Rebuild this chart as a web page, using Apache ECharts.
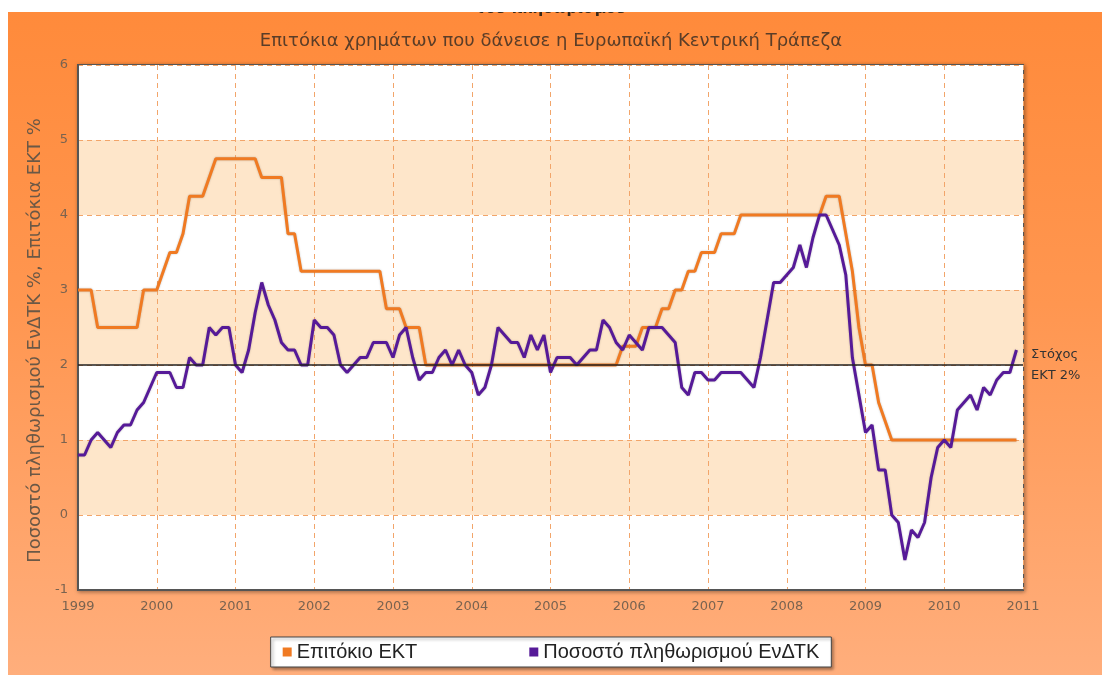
<!DOCTYPE html>
<html>
<head>
<meta charset="utf-8">
<script src="https://cdn.jsdelivr.net/npm/echarts@6/dist/echarts.min.js"></script>
<style>
  html, body { margin: 0; padding: 0; background: #fff; }
  #chart {
    width: 1102px; height: 675px;
    background: linear-gradient(to bottom, #FF8A3A 0%, #FF9650 45%, #FFAE7C 100%);
  }
</style>
</head>
<body>
<div id="chart"></div>
<script>
// Επιτόκιο ΕΚΤ και πληθωρισμός ΕνΔΤΚ, μηνιαία 1999-2010
var firstYear = 1999;
var lastYear = 2011;

// Επιτόκιο ΕΚΤ %, Ιαν 1999 - Δεκ 2010
var ecbRate = [
  3.0, 3.0, 3.0, 2.5, 2.5, 2.5, 2.5, 2.5, 2.5, 2.5, 3.0, 3.0,        // 1999
  3.0, 3.25, 3.5, 3.5, 3.75, 4.25, 4.25, 4.25, 4.5, 4.75, 4.75, 4.75, // 2000
  4.75, 4.75, 4.75, 4.75, 4.5, 4.5, 4.5, 4.5, 3.75, 3.75, 3.25, 3.25, // 2001
  3.25, 3.25, 3.25, 3.25, 3.25, 3.25, 3.25, 3.25, 3.25, 3.25, 3.25, 2.75, // 2002
  2.75, 2.75, 2.5, 2.5, 2.5, 2.0, 2.0, 2.0, 2.0, 2.0, 2.0, 2.0,      // 2003
  2.0, 2.0, 2.0, 2.0, 2.0, 2.0, 2.0, 2.0, 2.0, 2.0, 2.0, 2.0,        // 2004
  2.0, 2.0, 2.0, 2.0, 2.0, 2.0, 2.0, 2.0, 2.0, 2.0, 2.0, 2.25,       // 2005
  2.25, 2.25, 2.5, 2.5, 2.5, 2.75, 2.75, 3.0, 3.0, 3.25, 3.25, 3.5,  // 2006
  3.5, 3.5, 3.75, 3.75, 3.75, 4.0, 4.0, 4.0, 4.0, 4.0, 4.0, 4.0,     // 2007
  4.0, 4.0, 4.0, 4.0, 4.0, 4.0, 4.25, 4.25, 4.25, 3.75, 3.25, 2.5,   // 2008
  2.0, 2.0, 1.5, 1.25, 1.0, 1.0, 1.0, 1.0, 1.0, 1.0, 1.0, 1.0,       // 2009
  1.0, 1.0, 1.0, 1.0, 1.0, 1.0, 1.0, 1.0, 1.0, 1.0, 1.0, 1.0         // 2010
];

// Ποσοστό πληθωρισμού ΕνΔΤΚ %, Ιαν 1999 - Δεκ 2010
var hicp = [
  0.8, 0.8, 1.0, 1.1, 1.0, 0.9, 1.1, 1.2, 1.2, 1.4, 1.5, 1.7,   // 1999
  1.9, 1.9, 1.9, 1.7, 1.7, 2.1, 2.0, 2.0, 2.5, 2.4, 2.5, 2.5,   // 2000
  2.0, 1.9, 2.2, 2.7, 3.1, 2.8, 2.6, 2.3, 2.2, 2.2, 2.0, 2.0,   // 2001
  2.6, 2.5, 2.5, 2.4, 2.0, 1.9, 2.0, 2.1, 2.1, 2.3, 2.3, 2.3,   // 2002
  2.1, 2.4, 2.5, 2.1, 1.8, 1.9, 1.9, 2.1, 2.2, 2.0, 2.2, 2.0,   // 2003
  1.9, 1.6, 1.7, 2.0, 2.5, 2.4, 2.3, 2.3, 2.1, 2.4, 2.2, 2.4,   // 2004
  1.9, 2.1, 2.1, 2.1, 2.0, 2.1, 2.2, 2.2, 2.6, 2.5, 2.3, 2.2,   // 2005
  2.4, 2.3, 2.2, 2.5, 2.5, 2.5, 2.4, 2.3, 1.7, 1.6, 1.9, 1.9,   // 2006
  1.8, 1.8, 1.9, 1.9, 1.9, 1.9, 1.8, 1.7, 2.1, 2.6, 3.1, 3.1,   // 2007
  3.2, 3.3, 3.6, 3.3, 3.7, 4.0, 4.0, 3.8, 3.6, 3.2, 2.1, 1.6,   // 2008
  1.1, 1.2, 0.6, 0.6, 0.0, -0.1, -0.6, -0.2, -0.3, -0.1, 0.5, 0.9, // 2009
  1.0, 0.9, 1.4, 1.5, 1.6, 1.4, 1.7, 1.6, 1.8, 1.9, 1.9, 2.2    // 2010
];

var ecbTarget = 2;
var seriesNames = ['Επιτόκιο ΕΚΤ', 'Ποσοστό πληθωρισμού ΕνΔΤΚ'];

function monthly(values) {
    return values.map(function (v, i) {
        return [firstYear + i / 12, v];
    });
}

var myChart = echarts.init(document.getElementById('chart'));
var option = {
    animation: false,
    color: ['#F07A22', '#561A98'],
    textStyle: { fontFamily: 'DejaVu Sans' },
    title: [{
        text: 'του πληθωρισμού',
        left: 'center',
        top: -3,
        textStyle: { fontSize: 15, fontWeight: 'bold', color: '#3a2818' }
    }, {
        text: 'Επιτόκια χρημάτων που δάνεισε η Ευρωπαϊκή Κεντρική Τράπεζα',
        left: 'center',
        top: 27,
        textStyle: { fontSize: 18, fontWeight: 'normal', color: '#5a3d28' }
    }],
    graphic: [
        { type: 'rect', z: 100, shape: { x: 0, y: 0, width: 1102, height: 12 }, style: { fill: '#fff' } },
        { type: 'rect', z: 100, shape: { x: 0, y: 0, width: 8, height: 675 }, style: { fill: '#fff' } }
    ],
    grid: {
        left: 78,
        right: 79,
        top: 65,
        bottom: 85,
        show: true,
        backgroundColor: '#fff',
        borderColor: '#555',
        borderWidth: 2,
        shadowColor: 'rgba(0,0,0,0.35)',
        shadowBlur: 4,
        shadowOffsetX: 1,
        shadowOffsetY: 1
    },
    legend: {
        data: seriesNames,
        left: 'center',
        top: 637,
        icon: 'rect',
        itemWidth: 9,
        itemHeight: 9,
        itemGap: 112,
        padding: [5, 12, 5, 12],
        backgroundColor: '#fff',
        borderColor: '#444',
        borderWidth: 1,
        shadowColor: 'rgba(0,0,0,0.4)',
        shadowBlur: 3,
        shadowOffsetX: 2,
        shadowOffsetY: 2,
        textStyle: { fontFamily: 'Liberation Sans', fontSize: 20, color: '#222' }
    },
    xAxis: {
        type: 'value',
        min: firstYear,
        max: lastYear,
        interval: 1,
        axisLine: { show: true, onZero: false, lineStyle: { color: '#555', width: 2 } },
        axisTick: { show: false },
        axisLabel: {
            color: '#7a6350',
            fontSize: 13,
            margin: 10,
            formatter: function (v) { return String(v); }
        },
        splitLine: { show: true, lineStyle: { color: '#F2A56A', type: [5, 4], width: 1 } }
    },
    yAxis: {
        type: 'value',
        min: -1,
        max: 6,
        interval: 1,
        name: 'Ποσοστό πληθωρισμού ΕνΔΤΚ %, Επιτόκια ΕΚΤ %',
        nameLocation: 'middle',
        nameGap: 34,
        nameTextStyle: { color: '#6b5846', fontSize: 18, padding: [0, 26, 0, 0] },
        axisLine: { show: true, onZero: false, lineStyle: { color: '#555', width: 2 } },
        axisTick: { show: false },
        axisLabel: { color: '#7a6350', fontSize: 13, margin: 10 },
        splitLine: { show: true, lineStyle: { color: '#F2A56A', type: [5, 4], width: 1 } },
        splitArea: { show: true, areaStyle: { color: ['#ffffff', '#FEE6CA'] } }
    },
    series: [{
        name: seriesNames[0],
        type: 'line',
        showSymbol: false,
        data: monthly(ecbRate),
        lineStyle: { width: 3, shadowColor: 'rgba(0,0,0,0.25)', shadowBlur: 2 },
        markLine: {
            silent: true,
            symbol: 'none',
            lineStyle: { color: '#222', type: 'solid', width: 1.5 },
            label: {
                position: 'end',
                formatter: 'Στόχος\nΕΚΤ 2%',
                color: '#333',
                fontSize: 13,
                lineHeight: 21,
                distance: 8
            },
            data: [{ yAxis: ecbTarget }]
        }
    }, {
        name: seriesNames[1],
        type: 'line',
        showSymbol: false,
        data: monthly(hicp),
        lineStyle: { width: 3, shadowColor: 'rgba(0,0,0,0.25)', shadowBlur: 2 }
    }]
};
myChart.setOption(option);
</script>
</body>
</html>
